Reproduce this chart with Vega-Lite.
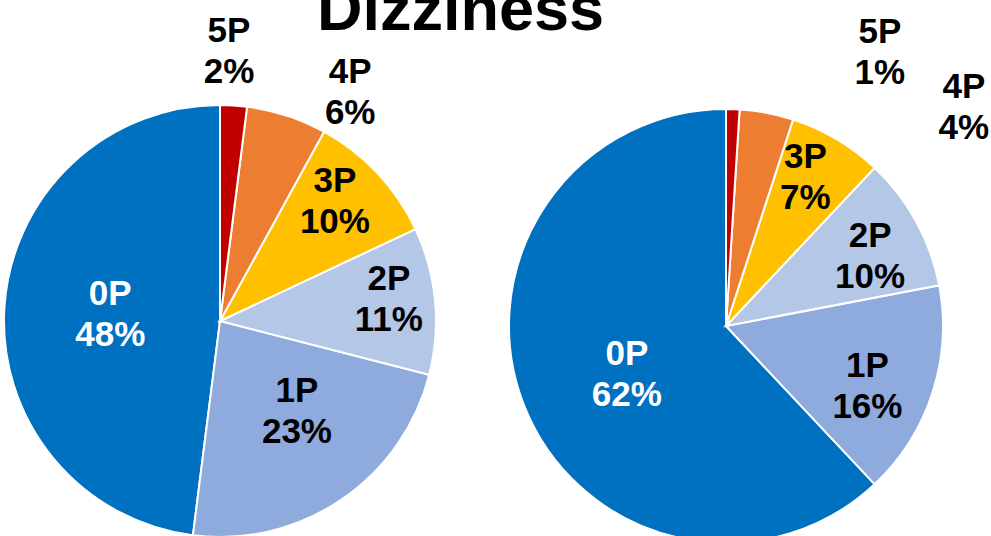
{
  "$schema": "https://vega.github.io/schema/vega-lite/v6.json",
  "background": "white",
  "padding": {"top": -20, "left": 0, "right": 0, "bottom": 0},
  "title": {"text": "Dizziness", "font": "Liberation Sans", "fontSize": 63, "fontWeight": "bold", "color": "black", "anchor": "middle", "frame": "bounds", "dx": -34, "offset": -29},
  "datasets": {
    "left": [
      {"cat": "0P", "value": 48, "label": "0P\n48%"},
      {"cat": "1P", "value": 23, "label": "1P\n23%"},
      {"cat": "2P", "value": 11, "label": "2P\n11%"},
      {"cat": "3P", "value": 10, "label": "3P\n10%"},
      {"cat": "4P", "value": 6, "label": "4P\n6%"},
      {"cat": "5P", "value": 2, "label": "5P\n2%"}
    ],
    "right": [
      {"cat": "0P", "value": 62, "label": "0P\n62%"},
      {"cat": "1P", "value": 16, "label": "1P\n16%"},
      {"cat": "2P", "value": 10, "label": "2P\n10%"},
      {"cat": "3P", "value": 7, "label": "3P\n7%"},
      {"cat": "4P", "value": 4, "label": "4P\n4%"},
      {"cat": "5P", "value": 1, "label": "5P\n1%"}
    ]
  },
  "spacing": 65,
  "hconcat": [
    {
      "width": 436,
      "height": 540,
      "data": {"name": "left"},
      "layer": [
        {
          "mark": {"type": "arc", "radius": 216, "stroke": "white", "strokeWidth": 2},
          "encoding": {
            "theta": {"field": "value", "type": "quantitative", "stack": true},
            "order": {"field": "cat", "type": "ordinal", "sort": "descending"},
            "color": {"field": "cat", "type": "nominal", "legend": null,
              "scale": {"domain": ["0P", "1P", "2P", "3P", "4P", "5P"], "range": ["#0070C0", "#8FAADC", "#B4C7E7", "#FFC000", "#ED7D31", "#C00000"]}}
          }
        },
        {
          "transform": [
            {"stack": "value", "groupby": [], "sort": [{"field": "cat", "order": "descending"}], "as": ["s0", "s1"]},
            {"filter": "datum.cat === '5P'"}
          ],
          "mark": {"type": "text", "radius": 290, "thetaOffset": 0.031, "font": "Liberation Sans", "fontSize": 35, "fontWeight": "bold", "lineBreak": "\n", "lineHeight": 41, "color": "black"},
          "encoding": {"theta": {"field": "s0", "type": "quantitative"}, "text": {"field": "label"}}
        },
        {
          "transform": [
            {"stack": "value", "groupby": [], "sort": [{"field": "cat", "order": "descending"}], "as": ["s0", "s1"]},
            {"filter": "datum.cat === '4P'"}
          ],
          "mark": {"type": "text", "radius": 281, "thetaOffset": 0.356, "font": "Liberation Sans", "fontSize": 35, "fontWeight": "bold", "lineBreak": "\n", "lineHeight": 41, "color": "black"},
          "encoding": {"theta": {"field": "s0", "type": "quantitative"}, "text": {"field": "label"}}
        },
        {
          "mark": {"type": "text", "radius": 181, "thetaOffset": -0.129, "font": "Liberation Sans", "fontSize": 35, "fontWeight": "bold", "lineBreak": "\n", "lineHeight": 41, "color": "black"},
          "encoding": {
            "theta": {"field": "value", "type": "quantitative", "stack": true},
            "order": {"field": "cat", "type": "ordinal", "sort": "descending"},
            "text": {"condition": {"test": "datum.cat === '3P'", "field": "label"}, "value": ""}}
        },
        {
          "mark": {"type": "text", "radius": 174, "thetaOffset": -0.15, "font": "Liberation Sans", "fontSize": 35, "fontWeight": "bold", "lineBreak": "\n", "lineHeight": 41, "color": "black"},
          "encoding": {
            "theta": {"field": "value", "type": "quantitative", "stack": true},
            "order": {"field": "cat", "type": "ordinal", "sort": "descending"},
            "text": {"condition": {"test": "datum.cat === '2P'", "field": "label"}, "value": ""}}
        },
        {
          "mark": {"type": "text", "radius": 104, "thetaOffset": -0.236, "font": "Liberation Sans", "fontSize": 35, "fontWeight": "bold", "lineBreak": "\n", "lineHeight": 41, "color": "black"},
          "encoding": {
            "theta": {"field": "value", "type": "quantitative", "stack": true},
            "order": {"field": "cat", "type": "ordinal", "sort": "descending"},
            "text": {"condition": {"test": "datum.cat === '1P'", "field": "label"}, "value": ""}}
        },
        {
          "mark": {"type": "text", "radius": 113, "thetaOffset": 0.178, "font": "Liberation Sans", "fontSize": 35, "fontWeight": "bold", "lineBreak": "\n", "lineHeight": 41, "color": "white"},
          "encoding": {
            "theta": {"field": "value", "type": "quantitative", "stack": true},
            "order": {"field": "cat", "type": "ordinal", "sort": "descending"},
            "text": {"condition": {"test": "datum.cat === '0P'", "field": "label"}, "value": ""}}
        }
      ]
    },
    {
      "width": 436,
      "height": 550,
      "data": {"name": "right"},
      "layer": [
        {
          "mark": {"type": "arc", "radius": 217, "stroke": "white", "strokeWidth": 2},
          "encoding": {
            "theta": {"field": "value", "type": "quantitative", "stack": true},
            "order": {"field": "cat", "type": "ordinal", "sort": "descending"},
            "color": {"field": "cat", "type": "nominal", "legend": null,
              "scale": {"domain": ["0P", "1P", "2P", "3P", "4P", "5P"], "range": ["#0070C0", "#8FAADC", "#B4C7E7", "#FFC000", "#ED7D31", "#C00000"]}}
          }
        },
        {
          "transform": [
            {"stack": "value", "groupby": [], "sort": [{"field": "cat", "order": "descending"}], "as": ["s0", "s1"]},
            {"filter": "datum.cat === '5P'"}
          ],
          "mark": {"type": "text", "radius": 332, "thetaOffset": 0.482, "font": "Liberation Sans", "fontSize": 35, "fontWeight": "bold", "lineBreak": "\n", "lineHeight": 41, "color": "black"},
          "encoding": {"theta": {"field": "s0", "type": "quantitative"}, "text": {"field": "label"}}
        },
        {
          "transform": [
            {"stack": "value", "groupby": [], "sort": [{"field": "cat", "order": "descending"}], "as": ["s0", "s1"]},
            {"filter": "datum.cat === '4P'"}
          ],
          "mark": {"type": "text", "radius": 337, "thetaOffset": 0.721, "font": "Liberation Sans", "fontSize": 35, "fontWeight": "bold", "lineBreak": "\n", "lineHeight": 41, "color": "black"},
          "encoding": {"theta": {"field": "s0", "type": "quantitative"}, "text": {"field": "label"}}
        },
        {
          "mark": {"type": "text", "radius": 187, "thetaOffset": -0.096, "font": "Liberation Sans", "fontSize": 35, "fontWeight": "bold", "lineBreak": "\n", "lineHeight": 41, "color": "black"},
          "encoding": {
            "theta": {"field": "value", "type": "quantitative", "stack": true},
            "order": {"field": "cat", "type": "ordinal", "sort": "descending"},
            "text": {"condition": {"test": "datum.cat === '3P'", "field": "label"}, "value": ""}}
        },
        {
          "mark": {"type": "text", "radius": 170, "thetaOffset": -0.056, "font": "Liberation Sans", "fontSize": 35, "fontWeight": "bold", "lineBreak": "\n", "lineHeight": 41, "color": "black"},
          "encoding": {
            "theta": {"field": "value", "type": "quantitative", "stack": true},
            "order": {"field": "cat", "type": "ordinal", "sort": "descending"},
            "text": {"condition": {"test": "datum.cat === '2P'", "field": "label"}, "value": ""}}
        },
        {
          "mark": {"type": "text", "radius": 147, "thetaOffset": -0.038, "font": "Liberation Sans", "fontSize": 35, "fontWeight": "bold", "lineBreak": "\n", "lineHeight": 41, "color": "black"},
          "encoding": {
            "theta": {"field": "value", "type": "quantitative", "stack": true},
            "order": {"field": "cat", "type": "ordinal", "sort": "descending"},
            "text": {"condition": {"test": "datum.cat === '1P'", "field": "label"}, "value": ""}}
        },
        {
          "mark": {"type": "text", "radius": 103, "thetaOffset": 0.101, "font": "Liberation Sans", "fontSize": 35, "fontWeight": "bold", "lineBreak": "\n", "lineHeight": 41, "color": "white"},
          "encoding": {
            "theta": {"field": "value", "type": "quantitative", "stack": true},
            "order": {"field": "cat", "type": "ordinal", "sort": "descending"},
            "text": {"condition": {"test": "datum.cat === '0P'", "field": "label"}, "value": ""}}
        }
      ]
    }
  ],
  "config": {"view": {"stroke": null}}
}
